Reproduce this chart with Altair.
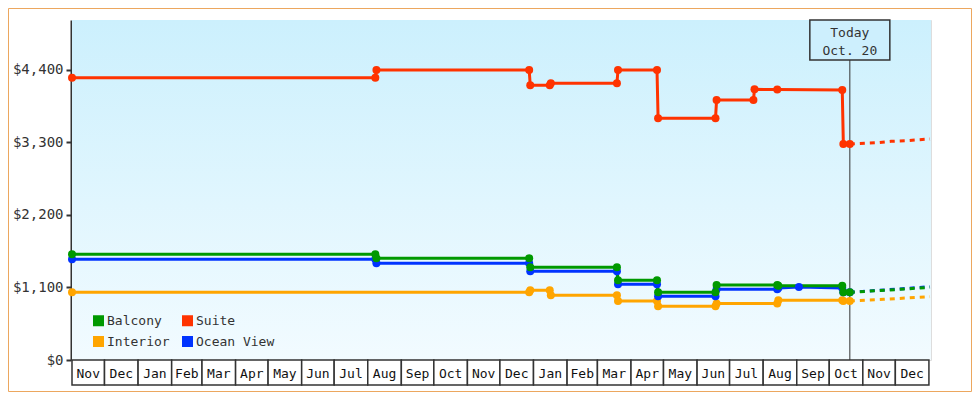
import altair as alt
import pandas as pd

MONO = "DejaVu Sans Mono"

# ---------------- data ----------------
month_labels = ["Nov", "Dec", "Jan", "Feb", "Mar", "Apr", "May", "Jun", "Jul", "Aug", "Sep", "Oct",
                "Nov", "Dec", "Jan", "Feb", "Mar", "Apr", "May", "Jun", "Jul", "Aug", "Sep", "Oct",
                "Nov", "Dec"]
month_starts = ["2021-11-01", "2021-12-01", "2022-01-01", "2022-02-01", "2022-03-01", "2022-04-01",
                "2022-05-01", "2022-06-01", "2022-07-01", "2022-08-01", "2022-09-01", "2022-10-01",
                "2022-11-01", "2022-12-01", "2023-01-01", "2023-02-01", "2023-03-01", "2023-04-01",
                "2023-05-01", "2023-06-01", "2023-07-01", "2023-08-01", "2023-09-01", "2023-10-01",
                "2023-11-01", "2023-12-01"]
axis_end = "2024-01-01"

y_ticks = [0, 1100, 2200, 3300, 4400]

# legend fills column by column: Balcony/Interior, then Suite/Ocean View
series_names = ["Balcony", "Interior", "Suite", "Ocean View"]
series_colors = ["#009900", "#ffa500", "#ff3300", "#0033ff"]

suite_dates = ["2021-11-01", "2022-08-08", "2022-08-09", "2022-12-28", "2022-12-29", "2023-01-16",
               "2023-01-17", "2023-03-19", "2023-03-20", "2023-04-25", "2023-04-26", "2023-06-18",
               "2023-06-19", "2023-07-23", "2023-07-24", "2023-08-14", "2023-10-13", "2023-10-14",
               "2023-10-20"]
suite_prices = [4283, 4283, 4400, 4400, 4168, 4168, 4198, 4198, 4400, 4400, 3667, 3667,
                3945, 3945, 4107, 4102, 4097, 3277, 3277]

balcony_dates = ["2021-11-01", "2022-08-08", "2022-08-09", "2022-12-28", "2022-12-29", "2023-03-19",
                 "2023-03-20", "2023-04-25", "2023-04-26", "2023-06-18", "2023-06-19", "2023-08-14",
                 "2023-08-15", "2023-10-13", "2023-10-14", "2023-10-20"]
balcony_prices = [1604, 1604, 1543, 1543, 1406, 1406, 1209, 1209, 1027, 1027, 1138, 1138,
                  1125, 1125, 1027, 1027]

ocean_dates = ["2021-11-01", "2022-08-08", "2022-08-09", "2022-12-28", "2022-12-29", "2023-03-19",
               "2023-03-20", "2023-04-25", "2023-04-26", "2023-06-18", "2023-06-19", "2023-08-14",
               "2023-08-15", "2023-09-03", "2023-10-13", "2023-10-14", "2023-10-20"]
ocean_prices = [1528, 1528, 1467, 1467, 1346, 1346, 1149, 1149, 966, 966, 1075, 1075,
                1092, 1108, 1092, 1027, 1027]

interior_dates = ["2021-11-01", "2022-12-28", "2022-12-29", "2023-01-16", "2023-01-17", "2023-03-19",
                  "2023-03-20", "2023-04-25", "2023-04-26", "2023-06-18", "2023-06-19", "2023-08-14",
                  "2023-08-15", "2023-10-13", "2023-10-14", "2023-10-20"]
interior_prices = [1027, 1027, 1057, 1057, 982, 982, 895, 895, 815, 815, 857, 857,
                   906, 906, 895, 895]

# projections (dotted, after today)
suite_proj_dates = ["2023-10-20", "2023-11-14", "2023-11-27", "2023-12-11", "2024-01-02"]
suite_proj_prices = [3277, 3297, 3318, 3327, 3353]
balcony_proj_dates = ["2023-10-20", "2023-12-01", "2024-01-02"]
balcony_proj_prices = [1027, 1068, 1103]
ocean_proj_dates = ["2023-10-20", "2023-12-01", "2024-01-02"]
ocean_proj_prices = [1027, 1074, 1112]
interior_proj_dates = ["2023-10-20", "2023-11-20", "2024-01-02"]
interior_proj_prices = [895, 921, 960]

today_date = "2023-10-20"
today_lines = ["Today", "Oct. 20"]

# ---------------- tables ----------------
draw_order = {"Interior": 0, "Suite": 1, "Ocean View": 2, "Balcony": 3}


def make_df(groups):
    rows = []
    for name, ds, ps in groups:
        for d, p in zip(ds, ps):
            rows.append({"series": name, "date": pd.Timestamp(d), "price": p, "z": draw_order[name]})
    return pd.DataFrame(rows).sort_values(["z", "date"]).reset_index(drop=True)


hist = make_df([("Interior", interior_dates, interior_prices),
                ("Suite", suite_dates, suite_prices),
                ("Ocean View", ocean_dates, ocean_prices),
                ("Balcony", balcony_dates, balcony_prices)])
proj = make_df([("Interior", interior_proj_dates, interior_proj_prices),
                ("Suite", suite_proj_dates, suite_proj_prices),
                ("Ocean View", ocean_proj_dates, ocean_proj_prices),
                ("Balcony", balcony_proj_dates, balcony_proj_prices)])

starts = pd.to_datetime(pd.Series(month_starts))
ends = pd.to_datetime(pd.Series(month_starts[1:] + [axis_end]))
months = pd.DataFrame({"label": month_labels, "start": starts, "end": ends,
                       "mid": starts + (ends - starts) / 2})

today_df = pd.DataFrame({"d": [pd.Timestamp(today_date)]})
today_t1 = pd.DataFrame({"d": [pd.Timestamp(today_date)], "t": [today_lines[0]]})
today_t2 = pd.DataFrame({"d": [pd.Timestamp(today_date)], "t": [today_lines[1]]})
one = pd.DataFrame({"k": [0]})

# ---------------- chart ----------------
W, H = 859, 340
x_scale = alt.Scale(domain=[alt.DateTime(year=2021, month=11, date=1),
                            alt.DateTime(year=2024, month=1, date=2, hours=22)])
y_scale = alt.Scale(domain=[0, 5158], nice=False)
color_scale = alt.Scale(domain=series_names, range=series_colors)

legend = alt.Legend(title=None, orient="none", legendX=20, legendY=294,
                    columns=2, symbolType="square", symbolSize=121,
                    symbolStrokeWidth=0, symbolOpacity=1, symbolFillColor="#999999",
                    labelFont=MONO, labelFontSize=13, labelColor="#333333",
                    labelOffset=2, rowPadding=7, columnPadding=11,
                    padding=0, zindex=1)

frame = alt.Chart(one).mark_rect(fill="white", fillOpacity=0, stroke="#eca75f", strokeWidth=1).encode(
    x=alt.value(-63.5), x2=alt.value(W + 40.5), y=alt.value(-11.5), y2=alt.value(H + 31.5))

bg = alt.Chart(one).mark_rect(
    fill=alt.Gradient(gradient="linear",
                      stops=[alt.GradientStop(color="#ccf0fd", offset=0),
                             alt.GradientStop(color="#f2fbff", offset=1)],
                      x1=0, x2=0, y1=0, y2=1)
).encode(x=alt.value(0), x2=alt.value(W), y=alt.value(0), y2=alt.value(H))

month_boxes = alt.Chart(months).mark_rect(fill="white", stroke="#333333", strokeWidth=1.5).encode(
    x=alt.X("start:T", scale=x_scale, axis=None), x2="end:T",
    y=alt.value(H), y2=alt.value(H + 25))

month_text = alt.Chart(months).mark_text(font=MONO, fontSize=13, color="#111111",
                                         baseline="alphabetic", align="center").encode(
    x=alt.X("mid:T", scale=x_scale, axis=None), y=alt.value(H + 18), text="label:N")

today_rule = alt.Chart(today_df).mark_rule(color="#333333", strokeWidth=1).encode(
    x=alt.X("d:T", scale=x_scale, axis=None), y=alt.value(40), y2=alt.value(H))

today_box = alt.Chart(today_df).mark_rect(fill="#cdeffd", stroke="#333333", strokeWidth=1.5,
                                          xOffset=-40, x2Offset=40).encode(
    x=alt.X("d:T", scale=x_scale, axis=None), x2="d:T", y=alt.value(0), y2=alt.value(40))

today_txt1 = alt.Chart(today_t1).mark_text(font=MONO, fontSize=13, color="#333333",
                                           align="center", baseline="alphabetic").encode(
    x=alt.X("d:T", scale=x_scale, axis=None), y=alt.value(16.5), text="t:N")
today_txt2 = alt.Chart(today_t2).mark_text(font=MONO, fontSize=13, color="#333333",
                                           align="center", baseline="alphabetic").encode(
    x=alt.X("d:T", scale=x_scale, axis=None), y=alt.value(35.3), text="t:N")

y_axis = alt.Axis(values=y_ticks, format="$,.0f", title=None, grid=False,
                  domainColor="#333333", domainWidth=2, tickColor="#333333", tickWidth=2,
                  tickSize=5, labelFont=MONO, labelFontSize=14, labelColor="#333333",
                  labelPadding=3, offset=1, zindex=0)

points = alt.Chart(hist).mark_circle(size=64, opacity=1).encode(
    x=alt.X("date:T", scale=x_scale, axis=None),
    y=alt.Y("price:Q", scale=y_scale, axis=y_axis),
    color=alt.Color("series:N", scale=color_scale, legend=legend),
    order=alt.Order("z:Q"),
)

lines = alt.Chart(hist).mark_line(strokeWidth=3).encode(
    x=alt.X("date:T", scale=x_scale, axis=None),
    y=alt.Y("price:Q", scale=y_scale, axis=y_axis),
    color=alt.Color("series:N", scale=color_scale, legend=legend),
)

proj_lines = alt.Chart(proj).mark_line(strokeWidth=3, strokeDash=[5, 5]).encode(
    x=alt.X("date:T", scale=x_scale, axis=None),
    y=alt.Y("price:Q", scale=y_scale, axis=y_axis),
    color=alt.Color("series:N", scale=color_scale, legend=legend),
)

chart = alt.layer(frame, bg, month_boxes, month_text, today_rule, today_box, today_txt1,
                  today_txt2, lines, proj_lines, points).properties(
    width=W, height=H, padding=0
).configure_view(strokeWidth=0).configure(background="white")

chart.save("out.html", embed_options={"renderer": "svg", "actions": False})
